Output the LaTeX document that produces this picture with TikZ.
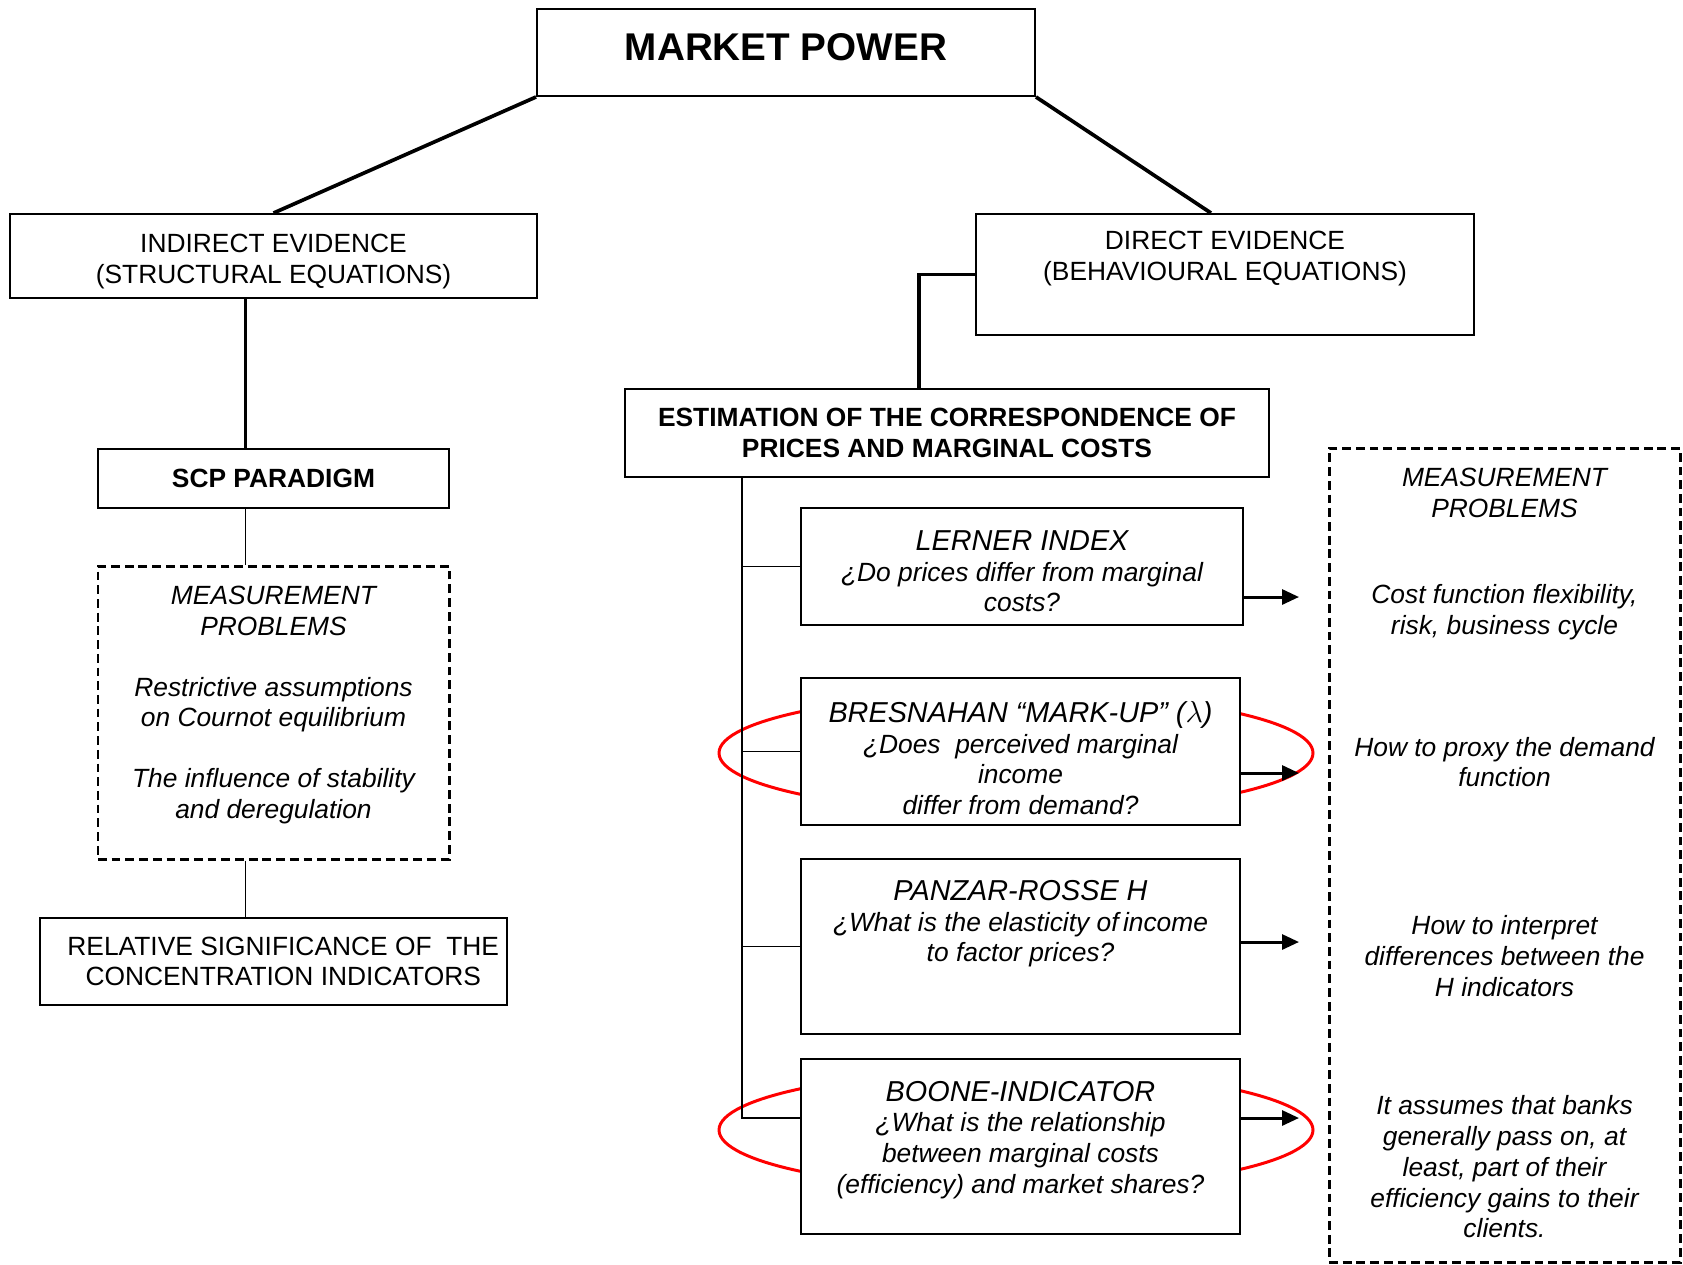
\documentclass[tikz,border=0pt]{standalone}
\usepackage{fontspec}
\setmainfont{Liberation Sans}
\usetikzlibrary{positioning,calc,arrows.meta}

\newcommand{\txt}{\fontsize{15}{17.5}\selectfont}
\newcommand{\boxtitle}[1]{{\fontsize{16.4}{18}\selectfont #1}}

\begin{document}
\begin{tikzpicture}[font=\txt, >={Triangle[length=0.34cm, width=0.3cm]},
  box/.style={draw, line width=1.1pt, fill=white, align=center, inner sep=0pt},
  dbox/.style={draw, line width=1.7pt, dash pattern=on 5pt off 2.8pt, align=center, inner sep=0pt},
  note/.style={font=\txt\itshape, align=center, inner sep=0pt},
  thickline/.style={line width=2.1pt},
  thinline/.style={line width=1.1pt},
  arrline/.style={line width=1.7pt, ->},
  ring/.style={draw=red, line width=1.7pt}]
  \useasboundingbox (0,0) rectangle (33.66,-25.28);

  % red rings behind the two boxes
  \draw[ring] (20.32,-15.06) ellipse [x radius=5.94, y radius=1.2];
  \draw[ring] (20.32,-22.6) ellipse [x radius=5.94, y radius=1.2];

  % top and the two branches
  \node[box, minimum width=9.96cm, minimum height=1.74cm, font=\fontsize{22}{24}\selectfont\bfseries] (power) at (15.72,-1.05) {MARKET POWER\\[-18pt]\mbox{}};
  \node[box, minimum width=10.54cm, minimum height=1.68cm] (indirect) at (5.47,-5.12) {\mbox{}\\[-0.5pt]INDIRECT EVIDENCE\\(STRUCTURAL EQUATIONS)};
  \node[box, minimum width=9.96cm, minimum height=2.42cm] (direct) at (24.5,-5.49) {DIRECT EVIDENCE\\(BEHAVIOURAL EQUATIONS)\\[4pt]\mbox{}};

  % left column
  \node[box, minimum width=7.02cm, minimum height=1.18cm, font=\txt\bfseries] (scp) at (5.47,-9.57) {SCP PARADIGM};
  \node[dbox, minimum width=7.02cm, minimum height=5.86cm, font=\txt\itshape] (measL) at (5.47,-14.25) {MEASUREMENT\\PROBLEMS\\[17pt]Restrictive assumptions\\on Cournot equilibrium\\[17pt]The influence of stability\\and deregulation\\[-6pt]\mbox{}};
  \node[box, minimum width=9.34cm, minimum height=1.74cm] (relative) at (5.47,-19.23) {\hspace{0.39cm}RELATIVE SIGNIFICANCE OF \ THE\\\hspace{0.39cm}CONCENTRATION INDICATORS};

  % right column
  \node[box, minimum width=12.88cm, minimum height=1.76cm, font=\txt\bfseries] (estim) at (18.94,-8.66) {ESTIMATION OF THE CORRESPONDENCE OF\\PRICES AND MARGINAL COSTS};
  \node[box, minimum width=8.84cm, minimum height=2.34cm, font=\txt\itshape] (lerner) at (20.44,-11.33) {\mbox{}\\[-0.6pt]\boxtitle{LERNER INDEX}\\¿Do prices differ from marginal\\costs?};
  \node[box, minimum width=8.78cm, minimum height=2.94cm, font=\txt\itshape] (bresnahan) at (20.41,-15.03) {\mbox{}\\[2pt]\boxtitle{BRESNAHAN “MARK-UP” ($\lambda$)}\\¿Does \ perceived marginal\\income\\differ from demand?};
  \node[box, minimum width=8.78cm, minimum height=3.5cm, font=\txt\itshape] (panzar) at (20.41,-18.93) {\boxtitle{PANZAR-ROSSE H}\\¿What is the elasticity of\,income\\to factor prices?\\[11.4pt]\mbox{}};
  \node[box, minimum width=8.78cm, minimum height=3.5cm, font=\txt\itshape] (boone) at (20.41,-22.93) {\boxtitle{BOONE-INDICATOR}\\¿What is the relationship\\between marginal costs\\(efficiency) and market shares?\\[-7pt]\mbox{}};

  % measurement problems on the right
  \node[dbox, minimum width=7.02cm, minimum height=16.28cm] (measR) at (30.09,-17.1) {};
  \node[note] (probR) at (30.09,-9.86) {MEASUREMENT\\PROBLEMS};
  \node[note] (costR) at (30.09,-12.25) {Cost function flexibility,\\risk, business cycle};
  \node[note] (proxyR) at (30.09,-15.24) {How to proxy the demand\\function};
  \node[note] (interpR) at (30.09,-19.12) {How to interpret\\differences between the\\H indicators};
  \node[note] (assumeR) at (30.09,-23.34) {It assumes that banks\\generally pass on, at\\least, part of their\\efficiency gains to their\\clients.};

  % connectors
  \coordinate (leftx) at (4.91,0);
  \coordinate (spine) at (14.84,0);
  \coordinate (arrL) at (25.98,-11.94);
  \coordinate (arrB) at (25.98,-15.46);
  \coordinate (arrP) at (25.98,-18.84);
  \coordinate (arrO) at (25.98,-22.36);

  \draw[thickline] (power.south west) -- (indirect.north);
  \draw[thickline] (power.south east) -- ([xshift=-0.28cm]direct.north);
  \draw[thickline] (leftx |- indirect.south) -- (leftx |- scp.north);
  \draw[thinline] (leftx |- scp.south) -- (leftx |- measL.north);
  \draw[thinline] (leftx |- measL.south) -- (leftx |- relative.north);
  \draw[thickline] (direct.west) -| ([xshift=-0.56cm]estim.north);

  \draw[thinline] (spine |- estim.south) -- (spine |- arrO) -- (boone.west |- arrO);
  \foreach \b in {lerner,bresnahan,panzar}
    \draw[thinline] (spine |- \b.west) -- (\b.west);
  \foreach \b/\a in {lerner/arrL, bresnahan/arrB, panzar/arrP, boone/arrO}
    \draw[arrline] (\b.east |- \a) -- (\a);
\end{tikzpicture}
\end{document}
